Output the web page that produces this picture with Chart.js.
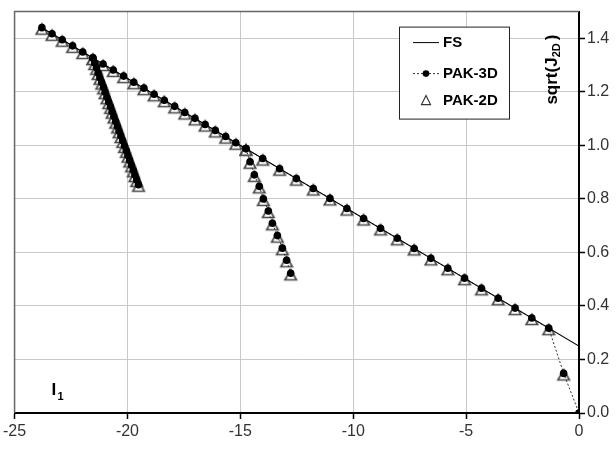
<!DOCTYPE html>
<html>
<head>
<meta charset="utf-8">
<script src="https://cdn.jsdelivr.net/npm/chart.js@4.4.1/dist/chart.umd.min.js"></script>
<style>
html,body{margin:0;padding:0;background:#fff}
</style>
</head>
<body>
<canvas id="myChart" width="616" height="450"></canvas>
<script>
// FS line (two ends)
var fsI1 = [-23.79, 0];
var fsJ = [1.440, 0.25];
// PAK results along the failure line
var pakI1 = [-23.79,-23.34,-22.89,-22.43,-21.98,-21.53,-21.08,-20.63,-20.17,-19.72,-19.27,-18.82,-18.37,-17.91,-17.46,-17.01,-16.56,-16.11,-15.65,-15.20,-14.75,-14.01,-13.26,-12.52,-11.77,-11.03,-10.28,-9.54,-8.79,-8.05,-7.30,-6.56,-5.81,-5.07,-4.32,-3.58,-2.83,-2.09,-1.34,-0.68,0];
var pakJ = [1.440,1.417,1.395,1.372,1.349,1.327,1.304,1.282,1.259,1.236,1.214,1.191,1.169,1.146,1.123,1.101,1.078,1.056,1.033,1.010,0.988,0.951,0.913,0.876,0.839,0.802,0.764,0.727,0.690,0.653,0.615,0.578,0.541,0.504,0.466,0.429,0.392,0.355,0.317,0.148,0];
// first unloading branch
var br1I1 = [-21.53,-21.45,-21.37,-21.30,-21.22,-21.14,-21.06,-20.99,-20.91,-20.83,-20.75,-20.68,-20.60,-20.52,-20.44,-20.37,-20.29,-20.21,-20.13,-20.05,-19.98,-19.90,-19.82,-19.74,-19.67,-19.59,-19.51];
var br1J = [1.327,1.308,1.290,1.271,1.253,1.235,1.217,1.199,1.180,1.162,1.144,1.126,1.108,1.089,1.071,1.053,1.035,1.017,0.998,0.980,0.962,0.944,0.926,0.907,0.889,0.871,0.853];
// second branch
var br2I1 = [-14.75,-14.57,-14.38,-14.16,-13.98,-13.76,-13.58,-13.36,-13.14,-12.95,-12.77];
var br2J = [0.988,0.939,0.890,0.847,0.800,0.755,0.709,0.663,0.616,0.571,0.522];

var xTicks = [-25,-20,-15,-10,-5,0];
var yTicks = [0,0.2,0.4,0.6,0.8,1.0,1.2,1.4];

function pts(xs, ys){
	return xs.map(function(x,i){ return {x:x, y:ys[i]}; });
}

var fuente = '"Liberation Sans", Arial, sans-serif';

// triangle marker like the Excel one (sits a bit low)
function hacerTriangulo(){
	var c = document.createElement('canvas');
	c.width = 16; c.height = 20;
	var g = c.getContext('2d');
	var cx = 8, cy = 10;
	g.beginPath();
	g.moveTo(cx, cy - 3.8);
	g.lineTo(cx + 5.7, cy + 6.5);
	g.lineTo(cx - 5.7, cy + 6.5);
	g.closePath();
	g.fillStyle = '#fff';
	g.fill();
	g.strokeStyle = '#4a4a4a';
	g.lineWidth = 1.7;
	g.stroke();
	return c;
}
var triangulo = hacerTriangulo();

var estilo3D = {
	showLine: true, borderColor:'#333', borderWidth:1, borderDash:[2,2],
	pointStyle:'circle', pointRadius:3.8, pointBackgroundColor:'#000', pointBorderColor:'#000', pointBorderWidth:0
};
var estilo2D = {
	showLine: false, pointStyle: triangulo, pointRadius:6
};

var datasets = [
	{label:'FS', data: pts(fsI1, fsJ), showLine:true, borderColor:'#000', borderWidth:1.2, pointRadius:0},
	Object.assign({label:'PAK-3D', data: pts(pakI1, pakJ)}, estilo3D),
	Object.assign({label:'_b1', data: pts(br1I1, br1J)}, estilo3D),
	Object.assign({label:'_b2', data: pts(br2I1, br2J)}, estilo3D),
	Object.assign({label:'PAK-2D', data: pts(pakI1, pakJ)}, estilo2D),
	Object.assign({label:'_t1', data: pts(br1I1, br1J)}, estilo2D),
	Object.assign({label:'_t2', data: pts(br2I1, br2J)}, estilo2D)
];

// legend box and texts inside the plot
var extras = {
	id:'extras',
	beforeDatasetsDraw: function(chart){
		var a = chart.chartArea, ctx = chart.ctx;
		ctx.save();
		ctx.strokeStyle = '#666';
		ctx.lineWidth = 1.5;
		ctx.beginPath();
		ctx.moveTo(a.left, a.bottom);
		ctx.lineTo(a.left, a.top);
		ctx.lineTo(a.right, a.top);
		ctx.stroke();
		ctx.restore();
	},
	afterDraw: function(chart){
		var a = chart.chartArea, ctx = chart.ctx;
		ctx.save();
		// legend
		var bx = a.right - 180, by = a.top + 15, bw = 110, bh = 92;
		ctx.fillStyle = '#fff';
		ctx.fillRect(bx, by, bw, bh);
		ctx.strokeStyle = '#222';
		ctx.lineWidth = 1;
		ctx.strokeRect(bx + 0.5, by + 0.5, bw, bh);
		ctx.font = 'bold 15px ' + fuente;
		ctx.textBaseline = 'middle';
		ctx.fillStyle = '#000';
		var filas = [by + 16, by + 47, by + 74];
		// FS
		ctx.strokeStyle = '#000';
		ctx.beginPath(); ctx.moveTo(bx + 14, filas[0]); ctx.lineTo(bx + 40, filas[0]); ctx.stroke();
		ctx.fillText('FS', bx + 44, filas[0]);
		// PAK-3D
		ctx.setLineDash([2,2]);
		ctx.strokeStyle = '#333';
		ctx.beginPath(); ctx.moveTo(bx + 14, filas[1]); ctx.lineTo(bx + 40, filas[1]); ctx.stroke();
		ctx.setLineDash([]);
		ctx.beginPath(); ctx.arc(bx + 27, filas[1], 3.3, 0, Math.PI * 2); ctx.fill();
		ctx.fillText('PAK-3D', bx + 44, filas[1]);
		// PAK-2D
		ctx.strokeStyle = '#333';
		ctx.lineWidth = 1.2;
		ctx.beginPath();
		ctx.moveTo(bx + 27, filas[2] - 5);
		ctx.lineTo(bx + 31.5, filas[2] + 4);
		ctx.lineTo(bx + 22.5, filas[2] + 4);
		ctx.closePath(); ctx.stroke();
		ctx.fillText('PAK-2D', bx + 44, filas[2]);

		// y title sqrt(J2D), rotated
		ctx.save();
		ctx.translate(a.right - 27, a.top + 93);
		ctx.rotate(-Math.PI / 2);
		ctx.textBaseline = 'middle';
		ctx.textAlign = 'left';
		ctx.font = 'bold 17px ' + fuente;
		var t1 = 'sqrt(J';
		ctx.fillText(t1, 0, 0);
		var w1 = ctx.measureText(t1).width;
		ctx.font = 'bold 11px ' + fuente;
		ctx.fillText('2D', w1, 5);
		var w2 = ctx.measureText('2D').width;
		ctx.font = 'bold 17px ' + fuente;
		ctx.fillText(')', w1 + w2 + 3, 0);
		ctx.restore();

		// I1 label
		ctx.font = 'bold 17px ' + fuente;
		ctx.textBaseline = 'alphabetic';
		ctx.fillText('I', a.left + 37, a.bottom - 18);
		ctx.font = 'bold 11px ' + fuente;
		ctx.fillText('1', a.left + 43, a.bottom - 13);
		ctx.restore();
	}
};

var myChart = new Chart(document.getElementById('myChart'), {
	type: 'scatter',
	data: { datasets: datasets },
	options: {
		responsive: false,
		animation: false,
		layout: { padding: { left: 14, top: 7, right: 0, bottom: 0 } },
		plugins: {
			legend: { display: false },
			tooltip: { enabled: false }
		},
		scales: {
			x: {
				type: 'linear', position: 'bottom', min: -25, max: 0,
				afterBuildTicks: function(s){ s.ticks = xTicks.map(function(v){ return {value:v}; }); },
				afterFit: function(s){ s.height = 37; },
				grid: { color:'#c8c8c8', lineWidth:1, tickLength:6, tickColor:'#000', tickWidth:1.5 },
				border: { color:'#000', width:2 },
				ticks: { color:'#333', font:{ family: fuente, size:16 }, padding:3 }
			},
			y: {
				type: 'linear', position: 'right', min: 0, max: 1.5,
				afterBuildTicks: function(s){ s.ticks = yTicks.map(function(v){ return {value:v}; }); },
				afterFit: function(s){ s.width = 37; },
				grid: { color:'#c8c8c8', lineWidth:1, tickLength:6, tickColor:'#000', tickWidth:1.5 },
				border: { color:'#000', width:2 },
				ticks: { color:'#333', font:{ family: fuente, size:16 }, padding:2,
					callback: function(v){ return v.toFixed(1); } }
			}
		}
	},
	plugins: [extras]
});
</script>
</body>
</html>
